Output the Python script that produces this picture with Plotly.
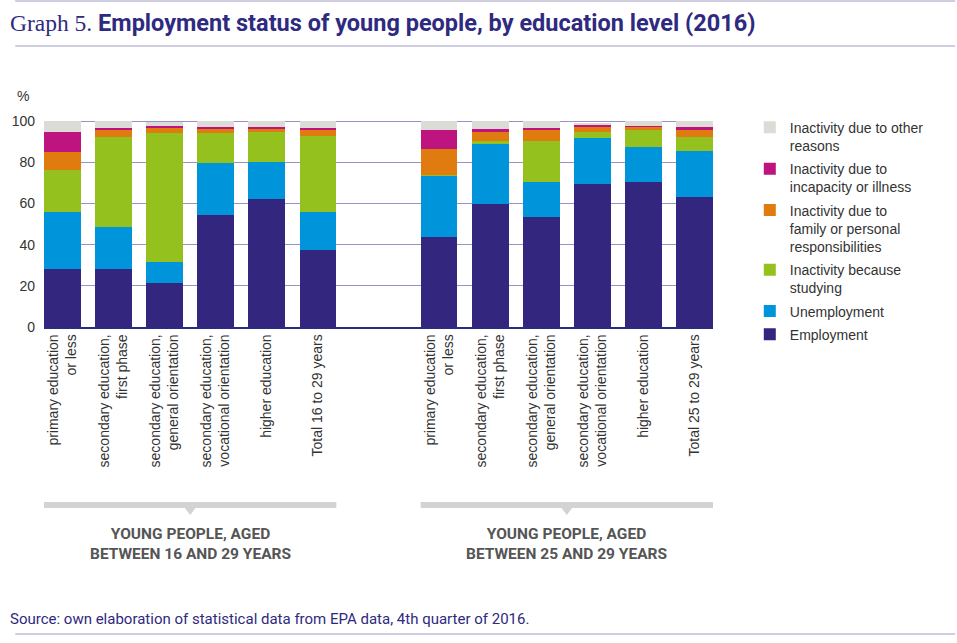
import plotly.graph_objects as go

# categories for the two age groups
cats_16_29 = ["primary education<br>or less", "secondary education,<br>first phase",
              "secondary education,<br>general orientation", "secondary education,<br>vocational orientation",
              "higher education", "Total 16 to 29 years"]
cats_25_29 = ["primary education<br>or less", "secondary education,<br>first phase",
              "secondary education,<br>general orientation", "secondary education,<br>vocational orientation",
              "higher education", "Total 25 to 29 years"]
group_labels = ["YOUNG PEOPLE, AGED<br>BETWEEN 16 AND 29 YEARS",
                "YOUNG PEOPLE, AGED<br>BETWEEN 25 AND 29 YEARS"]

# % values, first 6 = 16-29, last 6 = 25-29
employment = [28.3, 28.0, 21.2, 54.2, 62.0, 37.2, 43.5, 59.9, 53.7, 69.3, 70.7, 63.4]
unemployment = [27.7, 20.4, 10.4, 25.4, 18.3, 18.5, 30.1, 28.8, 17.0, 22.4, 17.0, 21.9]
studying = [20.1, 44.0, 62.6, 14.6, 14.7, 36.9, 0.3, 1.8, 19.9, 3.3, 8.1, 6.8]
family = [9.0, 3.1, 2.6, 2.1, 1.6, 2.9, 12.5, 4.2, 4.9, 2.2, 1.4, 3.7]
illness = [9.9, 1.3, 1.1, 1.1, 0.6, 1.4, 9.4, 1.7, 1.3, 1.0, 0.7, 1.4]
other = [5.0, 3.2, 1.9, 2.6, 2.8, 3.1, 4.5, 3.6, 3.2, 0.8, 2.1, 2.8]

y_ticks = [0, 20, 40, 60, 80, 100]

NAVY = "#2e2a80"
NARROW = "Roboto, sans-serif"
GAP = 2.37  # distance between the two groups, in bar slots
BAR_W = 0.72

n = len(cats_16_29)
xpos = [i for i in range(n)] + [n - 1 + GAP + i for i in range(n)]
ticktext = cats_16_29 + cats_25_29

series = [
    ("Employment", employment, "#33267f"),
    ("Unemployment", unemployment, "#0095da"),
    ("Inactivity because<br>studying", studying, "#95c11f"),
    ("Inactivity due to<br>family or personal<br>responsibilities", family, "#e07b10"),
    ("Inactivity due to<br>incapacity or illness", illness, "#bd1480"),
    ("Inactivity due to other<br>reasons", other, "#dcdbd6"),
]

fig = go.Figure()
for i, (name, vals, col) in enumerate(series):
    # top segment listed first in the legend
    fig.add_trace(go.Bar(x=xpos, y=vals, name=name, width=BAR_W, legendgroup=name,
                         legendrank=100 * (len(series) - i),
                         marker=dict(color=col, line=dict(width=0))))

x_lo = xpos[0] - BAR_W / 2
x_hi = xpos[-1] + BAR_W / 2

fig.update_layout(
    width=957, height=643,
    barmode="stack",
    plot_bgcolor="white", paper_bgcolor="white",
    margin=dict(l=39, r=244, t=120, b=316),
    font=dict(family="Liberation Sans, Arial, sans-serif", color="#333333", size=14),
    title=dict(
        text="<span style='font-family:Liberation Serif, serif'>Graph 5.</span> "
             "<b>Employment status of young people, by education level (2016)</b>",
        font=dict(family=NARROW, size=23.5, color=NAVY),
        xref="container", yref="container", x=10 / 957, xanchor="left",
        y=1 - 23 / 643, yanchor="middle"),
    xaxis=dict(range=[x_lo, x_hi], tickvals=xpos, ticktext=ticktext, tickangle=-90,
               showgrid=False, showline=True, linecolor=NAVY, linewidth=1.5,
               ticks="", tickfont=dict(size=14, color="#333333"), zeroline=False),
    yaxis=dict(range=[0, 100.6], tickvals=y_ticks, showgrid=True, gridcolor="#9892c8",
               gridwidth=1.2, zeroline=False, showline=False, ticks="",
               ticklabelstandoff=8, tickfont=dict(size=14, color="#333333")),
    legend=dict(x=1.055, xanchor="left", y=1.04, yanchor="top", traceorder="grouped",
                valign="top", font=dict(size=14, color="#333333"), itemwidth=30,
                bgcolor="rgba(0,0,0,0)", tracegroupgap=2),
    showlegend=True,
)

# "%" unit label
fig.add_annotation(text="%", xref="paper", yref="paper", x=-21 / 674, y=(327 - 96) / 207,
                   showarrow=False, xanchor="center", yanchor="middle",
                   font=dict(size=14, color="#333333"))

# group brackets and labels
for g in range(2):
    a = xpos[g * n] - BAR_W / 2
    b = xpos[g * n + n - 1] + BAR_W / 2
    mid = (a + b) / 2
    fig.add_shape(type="rect", xref="x", yref="paper", x0=a, x1=b,
                  y0=-(502 - 327) / 207, y1=-(508 - 327) / 207,
                  fillcolor="#d3d3d3", line=dict(width=0))
    ya, yb = -(507.5 - 327) / 207, -(515 - 327) / 207
    fig.add_shape(type="path", xref="x", yref="paper",
                  path=f"M {mid - 0.11},{ya} L {mid + 0.11},{ya} L {mid},{yb} Z",
                  fillcolor="#d3d3d3", line=dict(width=0))
    fig.add_annotation(text=f"<b>{group_labels[g]}</b>", xref="x", yref="paper",
                       x=mid, y=-(544 - 327) / 207, showarrow=False,
                       xanchor="center", yanchor="middle",
                       font=dict(family=NARROW, size=15.5, color="#555555"))

# source note
fig.add_annotation(text="Source: own elaboration of statistical data from EPA data, 4th quarter of 2016.",
                   xref="paper", yref="paper", x=-36 / 674, y=-(619 - 327) / 207,
                   showarrow=False, xanchor="left", yanchor="middle",
                   font=dict(family=NARROW, size=15, color=NAVY))

# horizontal rules of the page
for yy in [1, 46, 634]:
    fig.add_shape(type="line", xref="paper", yref="paper",
                  x0=-29 / 674, x1=(957 - 39) / 674,
                  y0=(327 - yy) / 207, y1=(327 - yy) / 207,
                  line=dict(color="#a29fc4", width=1.2))

fig.write_html("out.html", config={"displayModeBar": False},
               post_script="document.body.style.margin='0';")
